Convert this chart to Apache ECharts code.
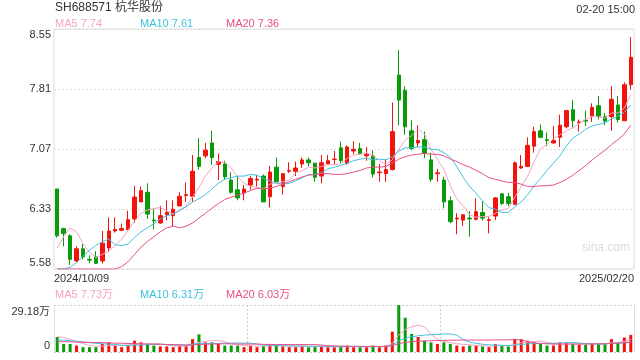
<!DOCTYPE html>
<html><head><meta charset="utf-8">
<script src="https://cdn.jsdelivr.net/npm/echarts@6/dist/echarts.min.js"></script>
<style>html,body{margin:0;padding:0;background:#fff}#c{width:640px;height:360px}</style>
</head><body><div id="c"></div>
<script>
const dates = [
'2024/10/09','2024/10/10','2024/10/11','2024/10/14','2024/10/15','2024/10/16','2024/10/17','2024/10/18','2024/10/21','2024/10/22','2024/10/23','2024/10/24','2024/10/25','2024/10/28','2024/10/29','2024/10/30','2024/10/31',
'2024/11/01','2024/11/04','2024/11/05','2024/11/06','2024/11/07','2024/11/08','2024/11/11','2024/11/12','2024/11/13','2024/11/14','2024/11/15','2024/11/18','2024/11/19','2024/11/20','2024/11/21','2024/11/22','2024/11/25','2024/11/26','2024/11/27','2024/11/28','2024/11/29',
'2024/12/02','2024/12/03','2024/12/04','2024/12/05','2024/12/06','2024/12/09','2024/12/10','2024/12/11','2024/12/12','2024/12/13','2024/12/16','2024/12/17','2024/12/18','2024/12/19','2024/12/20','2024/12/23','2024/12/24','2024/12/25','2024/12/26','2024/12/27','2024/12/30','2024/12/31',
'2025/01/02','2025/01/03','2025/01/06','2025/01/07','2025/01/08','2025/01/09','2025/01/10','2025/01/13','2025/01/14','2025/01/15','2025/01/16','2025/01/17','2025/01/20','2025/01/21','2025/01/22','2025/01/23','2025/01/24','2025/01/27',
'2025/02/05','2025/02/06','2025/02/07','2025/02/10','2025/02/11','2025/02/12','2025/02/13','2025/02/14','2025/02/17','2025/02/18','2025/02/19','2025/02/20'];

const opens = [
6.57,6.08,5.99,5.68,5.83,5.70,5.73,5.68,5.84,6.05,
6.06,6.07,6.20,6.41,6.53,6.185,6.15,6.25,6.24,6.36,
6.49,6.48,6.96,6.98,7.14,6.875,6.88,6.68,6.56,6.52,
6.62,6.68,6.73,6.475,6.84,6.60,6.79,6.79,6.88,6.93,
6.89,6.73,6.88,6.935,7.08,6.89,7.04,7.07,6.98,6.98,
6.77,6.76,6.81,7.98,7.79,7.29,7.14,7.18,6.93,6.76,
6.68,6.425,6.20,6.185,6.21,6.195,6.28,6.18,6.235,6.51,
6.475,6.38,6.83,6.85,7.10,7.29,7.18,7.14,7.21,7.34,
7.55,7.39,7.42,7.47,7.60,7.465,7.465,7.61,7.415,7.86];
const closes = [
5.99,6.02,5.70,5.83,5.73,5.69,5.65,5.90,6.05,6.07,
6.08,6.19,6.47,6.55,6.26,6.175,6.24,6.28,6.32,6.48,
6.50,6.79,6.85,7.05,6.96,6.91,6.72,6.53,6.46,6.57,
6.70,6.69,6.41,6.78,6.66,6.76,6.80,6.83,6.93,6.895,
6.715,6.895,6.92,6.94,6.92,7.09,7.06,7.01,7.00,6.755,
6.78,6.81,7.28,7.67,7.34,7.07,7.17,7.01,6.69,6.77,
6.41,6.165,6.21,6.25,6.20,6.29,6.21,6.19,6.46,6.39,
6.39,6.895,6.85,7.11,7.28,7.21,7.17,7.17,7.36,7.54,
7.415,7.40,7.41,7.58,7.47,7.41,7.68,7.43,7.86,8.20];
const highs = [
6.57,6.09,6.01,5.86,5.89,5.75,5.80,6.05,6.22,6.22,
6.14,6.30,6.61,6.60,6.64,6.32,6.36,6.43,6.43,6.53,
6.65,6.99,7.20,7.14,7.29,7.01,6.92,6.78,6.73,6.62,
6.73,6.74,6.75,6.855,6.96,6.76,6.90,6.91,6.96,6.96,
6.89,6.99,6.99,7.04,7.16,7.11,7.16,7.14,7.09,7.05,
6.88,6.94,7.64,8.29,7.84,7.42,7.36,7.28,7.02,6.82,
6.72,6.475,6.27,6.26,6.30,6.455,6.42,6.22,6.47,6.52,
6.525,6.91,6.99,7.21,7.34,7.37,7.27,7.35,7.49,7.55,
7.67,7.43,7.54,7.63,7.72,7.51,7.84,7.72,7.89,8.45];
const lows = [
5.97,5.86,5.63,5.66,5.70,5.65,5.64,5.65,5.79,6.03,
6.05,6.06,6.15,6.41,6.20,6.07,6.14,6.18,6.11,6.36,
6.41,6.41,6.81,6.95,6.87,6.68,6.69,6.51,6.43,6.43,
6.56,6.60,6.41,6.34,6.66,6.50,6.77,6.73,6.83,6.85,
6.66,6.64,6.88,6.87,6.89,6.87,7.00,6.99,6.92,6.715,
6.66,6.66,6.80,7.36,7.24,7.05,7.09,6.95,6.66,6.66,
6.33,6.145,6.01,6.11,5.98,6.18,6.18,6.02,6.185,6.37,
6.36,6.37,6.82,6.84,7.02,7.20,7.10,7.13,7.09,7.32,
7.32,7.28,7.35,7.40,7.43,7.36,7.29,7.39,7.41,7.80];

const ma5 = [
5.84,5.98,6.09,6.04,5.89,5.79,5.72,5.76,5.80,5.87,
5.95,6.06,6.17,6.27,6.31,6.33,6.34,6.30,6.26,6.30,
6.36,6.47,6.59,6.73,6.83,6.91,6.90,6.83,6.72,6.64,
6.60,6.59,6.57,6.63,6.65,6.66,6.68,6.77,6.80,6.84,
6.83,6.85,6.87,6.87,6.88,6.95,6.99,7.00,7.02,6.98,
6.92,6.87,6.93,7.06,7.18,7.23,7.31,7.25,7.06,6.94,
6.81,6.61,6.45,6.36,6.25,6.22,6.23,6.23,6.27,6.31,
6.33,6.47,6.60,6.73,6.91,7.07,7.12,7.19,7.24,7.29,
7.33,7.38,7.43,7.47,7.46,7.45,7.51,7.51,7.57,7.74];
const ma10 = [
5.58,5.58,5.60,5.66,5.74,5.81,5.87,5.92,5.95,5.88,
5.87,5.89,5.97,6.04,6.09,6.14,6.20,6.24,6.26,6.31,
6.35,6.41,6.45,6.50,6.57,6.64,6.69,6.71,6.73,6.73,
6.75,6.74,6.70,6.67,6.64,6.63,6.64,6.67,6.71,6.75,
6.75,6.77,6.82,6.84,6.86,6.89,6.92,6.94,6.95,6.93,
6.94,6.93,6.97,7.04,7.08,7.08,7.09,7.09,7.06,7.06,
7.02,6.96,6.85,6.71,6.60,6.52,6.42,6.34,6.32,6.28,
6.28,6.35,6.41,6.50,6.61,6.70,6.80,6.89,6.98,7.10,
7.20,7.25,7.31,7.35,7.37,7.39,7.44,7.47,7.52,7.61];
const ma20 = [
5.58,5.58,5.58,5.58,5.58,5.58,5.58,5.58,5.58,5.58,
5.61,5.67,5.76,5.85,5.92,5.98,6.04,6.09,6.11,6.09,
6.11,6.15,6.21,6.27,6.33,6.39,6.44,6.47,6.49,6.52,
6.55,6.58,6.57,6.58,6.60,6.63,6.66,6.69,6.72,6.74,
6.75,6.76,6.76,6.75,6.75,6.76,6.78,6.80,6.83,6.84,
6.84,6.85,6.89,6.94,6.97,6.99,7.00,7.01,7.00,7.00,
6.98,6.94,6.91,6.87,6.84,6.80,6.76,6.71,6.69,6.67,
6.65,6.65,6.63,6.60,6.60,6.61,6.61,6.62,6.65,6.69,
6.74,6.80,6.86,6.93,6.99,7.05,7.12,7.18,7.25,7.36];

// volume in 万
const volumes = [
9.3,5,5,4,3,3,3,5,6,4,
3,4,7,6,5,4,3.5,3.5,3,4,
4,8,11,6,6,5,4,4,4,3,
4,3,4,5,4,3.5,3,3,4,3,
3.5,3.5,3,3,3.5,4,3,3,3,4,
3,4,12.6,29.18,21.3,11.2,9.3,7,6,5,
6,5,4,3.5,4,4,3.5,3,5,4,
3.5,8.1,8,7,6,5,4,4,6,6,
5,4.5,4.5,5.5,5,5,8,6,9,10.6];
const vma5 = [
9.5,9.0,8.0,6.5,5.26,4.0,3.6,3.6,4.0,4.2,
4.2,4.4,4.8,4.8,5.0,5.2,5.1,4.4,3.8,3.6,
3.6,4.5,6.0,6.6,7.0,7.2,6.4,5.0,4.6,4.0,
3.8,3.6,3.6,3.8,4.0,3.9,3.9,3.7,3.5,3.3,
3.3,3.4,3.4,3.2,3.3,3.4,3.3,3.3,3.3,3.4,
3.2,3.4,5.32,10.56,14.02,15.66,16.72,15.6,10.96,7.7,
6.66,5.8,5.2,4.7,4.5,4.1,3.8,3.6,3.9,3.9,
3.8,4.72,5.72,6.12,6.52,6.82,6.0,5.2,5.0,5.0,
5.0,5.1,5.2,5.1,4.9,4.9,5.6,5.9,6.6,7.73];
const vma10 = [
7.5,7.3,7.0,6.6,6.2,5.8,5.4,5.1,4.9,4.73,
4.1,4.0,4.2,4.4,4.6,4.7,4.75,4.6,4.3,4.3,
4.4,4.8,5.2,5.2,5.3,5.4,5.45,5.5,5.6,5.5,
5.5,5.0,4.3,4.2,4.0,3.85,3.75,3.65,3.65,3.65,
3.6,3.65,3.55,3.35,3.3,3.35,3.35,3.35,3.25,3.35,
3.3,3.35,4.31,6.93,8.71,9.43,10.06,10.46,10.76,10.86,
11.16,11.26,10.4,7.83,6.1,5.38,4.8,4.4,4.3,4.2,
3.95,4.26,4.66,5.01,5.21,5.31,5.36,5.46,5.56,5.76,
5.91,5.55,5.2,5.05,4.95,4.95,5.35,5.55,5.85,6.31];
const vma20 = [
6.5,6.4,6.3,6.2,6.1,6.0,5.9,5.8,5.6,5.5,
5.4,5.3,5.2,5.1,5.0,4.9,4.8,4.7,4.6,4.52,
4.25,4.4,4.7,4.8,4.95,5.05,5.1,5.05,4.95,4.9,
4.95,4.9,4.75,4.7,4.65,4.63,4.6,4.58,4.63,4.58,
4.55,4.33,3.93,3.78,3.65,3.6,3.55,3.5,3.45,3.5,
3.45,3.5,3.93,5.14,6.0,6.39,6.7,6.9,7.0,7.1,
7.23,7.3,7.35,7.38,7.4,7.4,7.43,7.43,7.53,7.53,
7.55,7.76,7.53,6.42,5.66,5.35,5.08,4.93,4.93,4.98,
4.93,4.9,4.93,5.03,5.08,5.13,5.36,5.5,5.7,6.03];

const priceTickLabels = ['5.58','6.33','7.07','7.81','8.55'];
const volTickLabels = ['0','29.18万'];
const dateTickLabels = [dates[0], dates[dates.length-1]];
const priceMin = 5.58, priceMax = 8.55, volMax = 29.18;
const titleText = 'SH688571 杭华股份';
const timeText = '02-20 15:00';
const priceLegend = ['MA5 7.74','MA10 7.61','MA20 7.36'];
const volLegend = ['MA5 7.73万','MA10 6.31万','MA20 6.03万'];

const UP = '#f2140c', DOWN = '#0a9a0a';
const C5 = '#f6a3c3', C10 = '#3ec2df', C20 = '#e94f86';
const FONT = '"Liberation Sans", Arial, "Noto Sans CJK SC", sans-serif';

const chart = echarts.init(document.getElementById('c'), null, {renderer:'canvas'});
const legendX = [55, 140, 226];
const legendColors = [C5, C10, C20];
const titles = [
  {text:titleText, left:55, top:2, padding:0, textStyle:{fontSize:12, fontWeight:'normal', color:'#333', fontFamily:FONT}},
  {text:timeText, right:5, top:4, padding:0, textStyle:{fontSize:11, fontWeight:'normal', color:'#333', fontFamily:FONT}},
  {text:'sina.com', left:582, top:242, padding:0, textStyle:{fontSize:12, fontWeight:'normal', color:'#dadada', fontFamily:FONT}}
];
priceLegend.forEach((t,k)=>titles.push({text:t, left:legendX[k], top:18, padding:0, textStyle:{fontSize:11, fontWeight:'normal', color:legendColors[k], fontFamily:FONT}}));
volLegend.forEach((t,k)=>titles.push({text:t, left:legendX[k], top:289, padding:0, textStyle:{fontSize:11, fontWeight:'normal', color:legendColors[k], fontFamily:FONT}}));

const lineS = (name, data, color, xi, yi) => ({
  name, type:'line', data, xAxisIndex:xi, yAxisIndex:yi, symbol:'none', silent:true,
  lineStyle:{width:1, color}, itemStyle:{color}, z:5
});

chart.setOption({
  animation:false,
  textStyle:{fontFamily:FONT},
  title:titles,
  grid:[
    {left:54, width:580, top:29, height:240, show:true, borderColor:'#dddddd', borderWidth:1, backgroundColor:'transparent'},
    {left:54, width:580, top:305, height:47}
  ],
  xAxis:[
    {type:'category', gridIndex:0, data:dates, boundaryGap:true,
     axisLine:{show:false}, axisTick:{show:false}, splitLine:{show:false}, axisLabel:{show:false}},
    {type:'category', gridIndex:1, data:dates, boundaryGap:true,
     axisLine:{show:false}, axisTick:{show:false}, axisLabel:{show:false}, splitLine:{show:false}},
    {type:'value', gridIndex:1, min:0, max:3, interval:1,
     axisLine:{show:false}, axisTick:{show:false}, axisLabel:{show:false},
     splitLine:{show:true, lineStyle:{type:[2,2], color:'#cccccc', width:1}}},
    {type:'value', gridIndex:0, position:'bottom', min:0, max:1, interval:1,
     axisLine:{show:false}, axisTick:{show:false}, splitLine:{show:false},
     axisLabel:{fontSize:11, color:'#333', margin:4, showMinLabel:true, showMaxLabel:true,
       alignMinLabel:'left', alignMaxLabel:'right',
       formatter:(v)=>dateTickLabels[Math.round(v)]}}
  ],
  yAxis:[
    {type:'value', gridIndex:0, position:'right', min:priceMin, max:priceMax, show:false,
     splitLine:{show:false}},
    {type:'value', gridIndex:0, position:'left', min:0, max:4, interval:1,
     axisLine:{show:false}, axisTick:{show:false},
     splitLine:{show:true, lineStyle:{type:[2,2], color:'#dddddd', width:1}},
     axisLabel:{fontSize:11, color:'#333', margin:3,
       formatter:(v)=>{const s=priceTickLabels[Math.round(v)]; return v===4?'{t|'+s+'}':(v===0?'{b|'+s+'}':s);},
       rich:{t:{fontSize:11, color:'#333', padding:[12,0,0,0]}, b:{fontSize:11, color:'#333', padding:[0,0,12,0]}}}},
    {type:'value', gridIndex:1, position:'left', min:0, max:volMax, interval:volMax,
     axisLine:{show:true, lineStyle:{color:'#dddddd'}}, axisTick:{show:false},
     splitLine:{show:true, lineStyle:{type:[2,2], color:'#cccccc', width:1}},
     axisLabel:{fontSize:11, color:'#333', margin:4,
       formatter:(v)=>v>0?'{t|'+volTickLabels[1]+'}':'{b|'+volTickLabels[0]+'}',
       rich:{t:{fontSize:11, color:'#333', padding:[14,0,0,0]}, b:{fontSize:11, color:'#333', padding:[0,0,12,0]}}}},
    {type:'value', gridIndex:1, position:'right', min:0, max:volMax,
     axisLine:{show:true, lineStyle:{color:'#dddddd'}}, axisTick:{show:false},
     axisLabel:{show:false}, splitLine:{show:false}}
  ],
  series:[
    {type:'candlestick', xAxisIndex:0, yAxisIndex:0, barWidth:4, silent:true,
     data: opens.map((o,i)=>[o, closes[i], lows[i], highs[i]]),
     itemStyle:{color:UP, color0:DOWN, borderColor:UP, borderColor0:DOWN, borderWidth:1}},
    lineS('MA5', ma5, C5, 0, 0),
    lineS('MA10', ma10, C10, 0, 0),
    lineS('MA20', ma20, C20, 0, 0),
    {type:'bar', xAxisIndex:1, yAxisIndex:2, barWidth:3, silent:true, data:volumes,
     itemStyle:{color:(p)=>closes[p.dataIndex]>=opens[p.dataIndex]?UP:DOWN}},
    lineS('VMA5', vma5, C5, 1, 2),
    lineS('VMA10', vma10, C10, 1, 2),
    lineS('VMA20', vma20, C20, 1, 2)
  ]
});
</script></body></html>
